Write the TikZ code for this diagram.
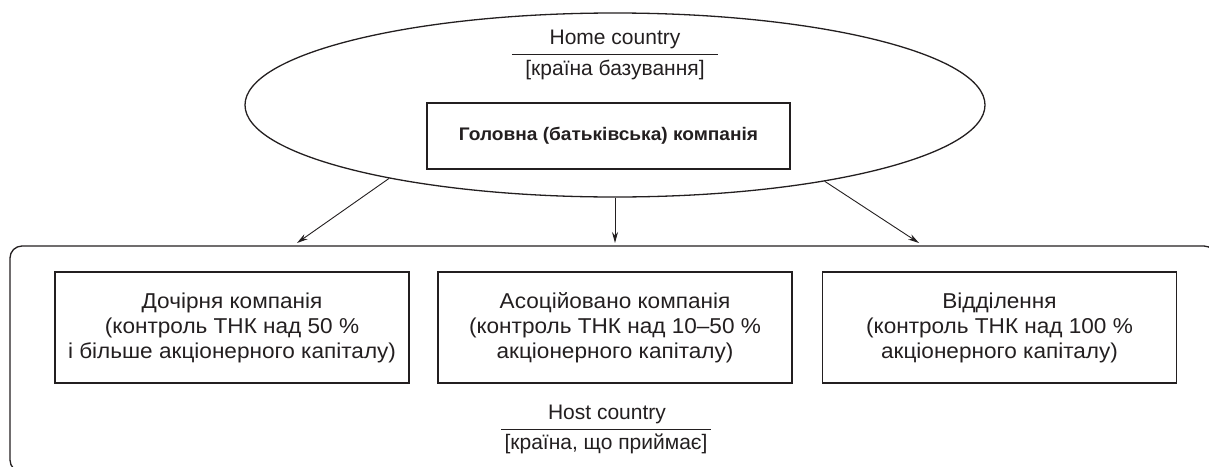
\documentclass[tikz,border=0pt]{standalone}
\usepackage{fontspec}
\setmainfont{Liberation Sans}
\newfontfamily\widefont[FakeStretch=1.05,Ligatures=TeX]{Liberation Sans}
\usetikzlibrary{shapes.geometric,arrows.meta}
\definecolor{ink}{HTML}{231F20}
\begin{document}
\begin{tikzpicture}[x=1pt,y=-1pt,
    every node/.style={text=ink,font=\fontsize{21}{24}\selectfont},
    unit/.style={draw=ink,line width=1.6pt,minimum width=354pt,minimum height=111pt,align=center,inner sep=0pt,font=\widefont\fontsize{21.5}{25}\selectfont},
    parent/.style={draw=ink,line width=1.6pt,minimum width=363pt,minimum height=66pt,inner sep=0pt,font=\widefont\fontsize{18.2}{20}\selectfont\bfseries},
    arrow/.style={draw=ink,line width=0.9pt,-{Stealth[length=11pt,width=6pt]}}]
  \useasboundingbox (0,0) rectangle (1209,466);
  \node[draw=ink,line width=1.3pt,ellipse,minimum width=740pt,minimum height=184pt,inner sep=0pt] (home) at (615,105) {};
  \node (homename) at (615,39) {Home country};
  \node (homesub) at (615,70) {[країна базування]};
  \node[parent] (hq) at (608.5,136) {Головна (батьківська) компанія};
  \draw[ink,line width=1.3pt,rounded corners=12pt] (10,246) rectangle (1216,472);
  \node[unit] (sub) at (232,327.5) {Дочірня компанія\\(контроль ТНК над 50~\%\\і більше акціонерного капіталу)};
  \node[unit] (assoc) at (615,327.5) {Асоційовано компанія\\(контроль ТНК над 10–50~\%\\акціонерного капіталу)};
  \node[unit] (branch) at (999.5,327.5) {Відділення\\(контроль ТНК над 100~\%\\акціонерного капіталу)};
  \node (hostname) at (607,414) {Host country};
  \node (hostsub) at (606,444) {[країна, що приймає]};
  \coordinate (l) at (297,243);
  \coordinate (m) at (615,243);
  \coordinate (r) at (919,243);
  \begin{scope}[draw=ink,line width=1pt]
    \draw ([xshift=-10pt,yshift=2pt]homesub.north west) -- ([xshift=10pt,yshift=2pt]homesub.north east);
    \draw ([yshift=1pt]hostsub.north west) -- ([yshift=1pt]hostsub.north east);
  \end{scope}
  \begin{scope}[arrow]
    \draw (home.198) -- (l);
    \draw (home.south) -- (m);
    \draw (home.340.6) -- (r);
  \end{scope}
\end{tikzpicture}
\end{document}
